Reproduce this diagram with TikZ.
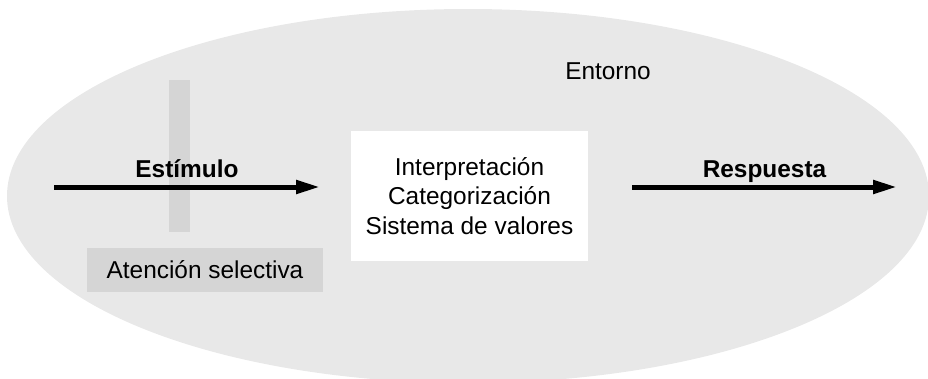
\documentclass[tikz,border=0pt]{standalone}
\usepackage{fontspec}
\setmainfont{Liberation Sans}
\usetikzlibrary{arrows.meta, positioning, shapes.geometric}
\definecolor{envgray}{HTML}{E8E8E8}
\definecolor{filtergray}{HTML}{D5D5D5}

\begin{document}
\begin{tikzpicture}[
    x=1bp, y=-1bp,
    env/.style={ellipse, fill=envgray, inner sep=0pt, outer sep=0pt, minimum width=922bp, minimum height=374bp},
    proc/.style={rectangle, fill=white, minimum width=237bp, minimum height=130bp, align=center, font=\fontsize{24.5}{29.5}\selectfont},
    filter/.style={rectangle, fill=filtergray, inner sep=0pt, font=\fontsize{24.5}{29}\selectfont},
    flowlabel/.style={anchor=base, yshift=9.5bp, font=\bfseries\fontsize{24.5}{29}\selectfont},
    arrow/.style={-{Triangle[length=24bp, width=13bp]}, line width=5bp}
]
    \useasboundingbox (0,0) rectangle (928,378);

    % Nodes
    \node[env] (entorno) at (468,196) {};
    \node[anchor=base, font=\fontsize{24.5}{29}\selectfont] (entornotxt) at (608,79) {Entorno};
    \node[proc] (proc) at (469.5,196) {Interpretación\\Categorización\\Sistema de valores};
    \node[filter, minimum width=21bp, minimum height=152bp] (gate) at (179.5,156) {};
    \node[filter, minimum width=236bp, minimum height=44bp] (atencion) at (205,270) {Atención selectiva};

    \coordinate (estin) at (54,187);
    \coordinate (estout) at (320,187);
    \coordinate (resin) at (632,187);
    \coordinate (resout) at (897,187);

    % Connections
    \draw[arrow] (estin) -- node[flowlabel] {Estímulo} (estout);
    \draw[arrow] (resin) -- node[flowlabel] {Respuesta} (resout);
\end{tikzpicture}
\end{document}
